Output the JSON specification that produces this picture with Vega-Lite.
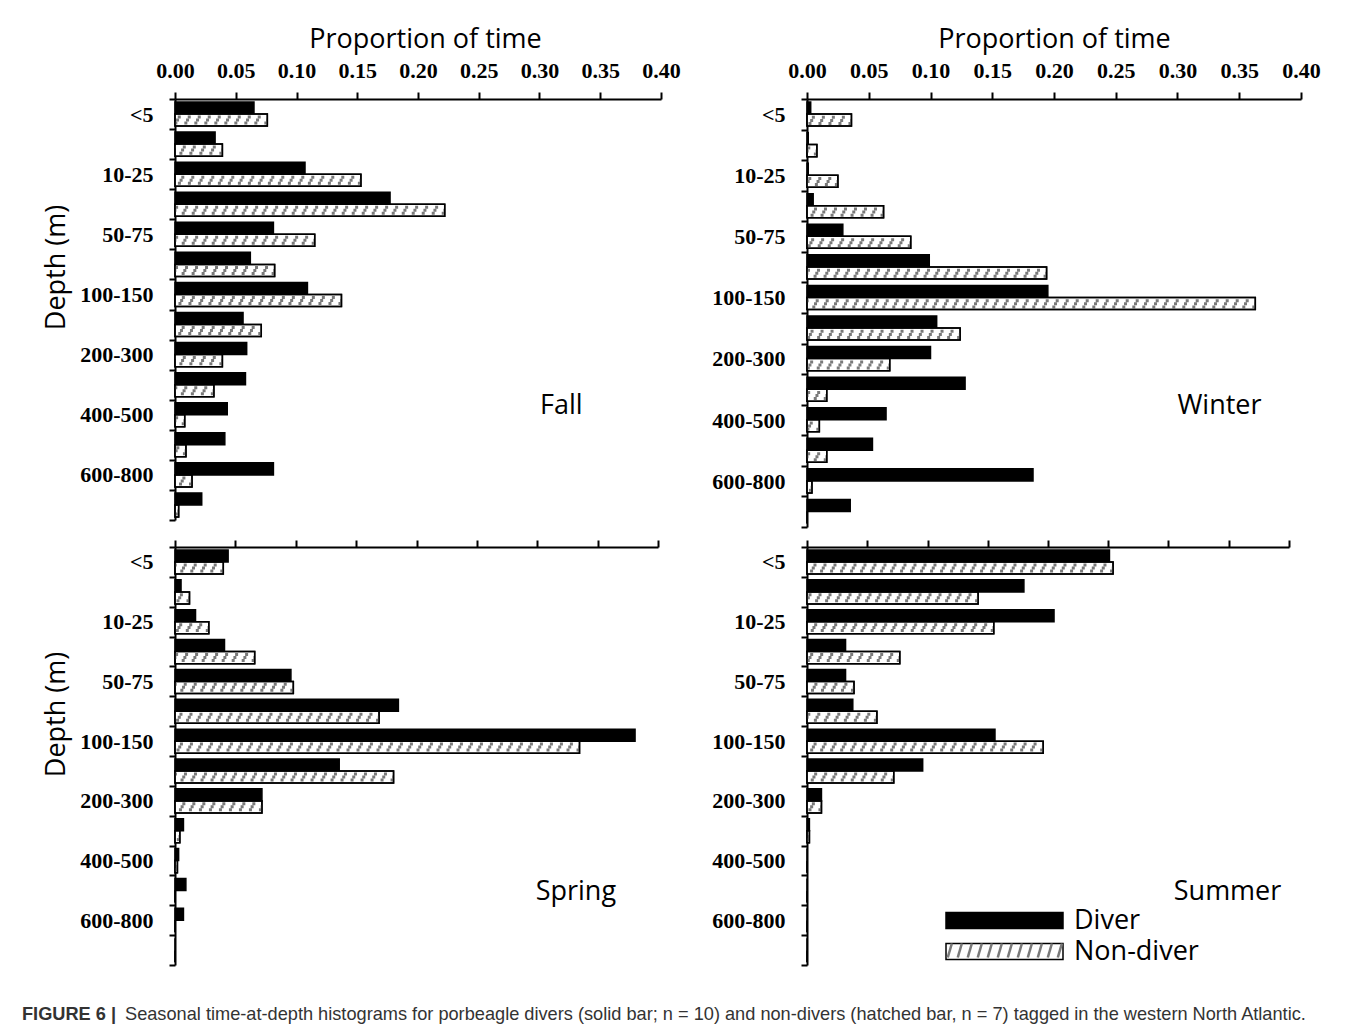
{
  "$schema": "https://vega.github.io/schema/vega-lite/v6.json",
  "padding": {"left": 22, "top": 25, "right": 5, "bottom": 5},
  "background": "white",
  "datasets": {
    "tad": [
      {"season": "Fall", "depth": "<5", "type": "Diver", "p": 0.065},
      {"season": "Fall", "depth": "5-10", "type": "Diver", "p": 0.033},
      {"season": "Fall", "depth": "10-25", "type": "Diver", "p": 0.107},
      {"season": "Fall", "depth": "25-50", "type": "Diver", "p": 0.177},
      {"season": "Fall", "depth": "50-75", "type": "Diver", "p": 0.081},
      {"season": "Fall", "depth": "75-100", "type": "Diver", "p": 0.062},
      {"season": "Fall", "depth": "100-150", "type": "Diver", "p": 0.109},
      {"season": "Fall", "depth": "150-200", "type": "Diver", "p": 0.056},
      {"season": "Fall", "depth": "200-300", "type": "Diver", "p": 0.059},
      {"season": "Fall", "depth": "300-400", "type": "Diver", "p": 0.058},
      {"season": "Fall", "depth": "400-500", "type": "Diver", "p": 0.043},
      {"season": "Fall", "depth": "500-600", "type": "Diver", "p": 0.041},
      {"season": "Fall", "depth": "600-800", "type": "Diver", "p": 0.081},
      {"season": "Fall", "depth": ">800", "type": "Diver", "p": 0.022},
      {"season": "Fall", "depth": "<5", "type": "Non-diver", "p": 0.076},
      {"season": "Fall", "depth": "5-10", "type": "Non-diver", "p": 0.039},
      {"season": "Fall", "depth": "10-25", "type": "Non-diver", "p": 0.153},
      {"season": "Fall", "depth": "25-50", "type": "Non-diver", "p": 0.222},
      {"season": "Fall", "depth": "50-75", "type": "Non-diver", "p": 0.115},
      {"season": "Fall", "depth": "75-100", "type": "Non-diver", "p": 0.082},
      {"season": "Fall", "depth": "100-150", "type": "Non-diver", "p": 0.137},
      {"season": "Fall", "depth": "150-200", "type": "Non-diver", "p": 0.071},
      {"season": "Fall", "depth": "200-300", "type": "Non-diver", "p": 0.039},
      {"season": "Fall", "depth": "300-400", "type": "Non-diver", "p": 0.032},
      {"season": "Fall", "depth": "400-500", "type": "Non-diver", "p": 0.008},
      {"season": "Fall", "depth": "500-600", "type": "Non-diver", "p": 0.009},
      {"season": "Fall", "depth": "600-800", "type": "Non-diver", "p": 0.014},
      {"season": "Fall", "depth": ">800", "type": "Non-diver", "p": 0.003},
      {"season": "Winter", "depth": "<5", "type": "Diver", "p": 0.003},
      {"season": "Winter", "depth": "5-10", "type": "Diver", "p": 0.001},
      {"season": "Winter", "depth": "10-25", "type": "Diver", "p": 0.001},
      {"season": "Winter", "depth": "25-50", "type": "Diver", "p": 0.005},
      {"season": "Winter", "depth": "50-75", "type": "Diver", "p": 0.029},
      {"season": "Winter", "depth": "75-100", "type": "Diver", "p": 0.099},
      {"season": "Winter", "depth": "100-150", "type": "Diver", "p": 0.195},
      {"season": "Winter", "depth": "150-200", "type": "Diver", "p": 0.105},
      {"season": "Winter", "depth": "200-300", "type": "Diver", "p": 0.1},
      {"season": "Winter", "depth": "300-400", "type": "Diver", "p": 0.128},
      {"season": "Winter", "depth": "400-500", "type": "Diver", "p": 0.064},
      {"season": "Winter", "depth": "500-600", "type": "Diver", "p": 0.053},
      {"season": "Winter", "depth": "600-800", "type": "Diver", "p": 0.183},
      {"season": "Winter", "depth": ">800", "type": "Diver", "p": 0.035},
      {"season": "Winter", "depth": "<5", "type": "Non-diver", "p": 0.036},
      {"season": "Winter", "depth": "5-10", "type": "Non-diver", "p": 0.008},
      {"season": "Winter", "depth": "10-25", "type": "Non-diver", "p": 0.025},
      {"season": "Winter", "depth": "25-50", "type": "Non-diver", "p": 0.062},
      {"season": "Winter", "depth": "50-75", "type": "Non-diver", "p": 0.084},
      {"season": "Winter", "depth": "75-100", "type": "Non-diver", "p": 0.194},
      {"season": "Winter", "depth": "100-150", "type": "Non-diver", "p": 0.363},
      {"season": "Winter", "depth": "150-200", "type": "Non-diver", "p": 0.124},
      {"season": "Winter", "depth": "200-300", "type": "Non-diver", "p": 0.067},
      {"season": "Winter", "depth": "300-400", "type": "Non-diver", "p": 0.016},
      {"season": "Winter", "depth": "400-500", "type": "Non-diver", "p": 0.01},
      {"season": "Winter", "depth": "500-600", "type": "Non-diver", "p": 0.016},
      {"season": "Winter", "depth": "600-800", "type": "Non-diver", "p": 0.004},
      {"season": "Winter", "depth": ">800", "type": "Non-diver", "p": 0},
      {"season": "Spring", "depth": "<5", "type": "Diver", "p": 0.044},
      {"season": "Spring", "depth": "5-10", "type": "Diver", "p": 0.005},
      {"season": "Spring", "depth": "10-25", "type": "Diver", "p": 0.017},
      {"season": "Spring", "depth": "25-50", "type": "Diver", "p": 0.041},
      {"season": "Spring", "depth": "50-75", "type": "Diver", "p": 0.096},
      {"season": "Spring", "depth": "75-100", "type": "Diver", "p": 0.185},
      {"season": "Spring", "depth": "100-150", "type": "Diver", "p": 0.381},
      {"season": "Spring", "depth": "150-200", "type": "Diver", "p": 0.136},
      {"season": "Spring", "depth": "200-300", "type": "Diver", "p": 0.072},
      {"season": "Spring", "depth": "300-400", "type": "Diver", "p": 0.007},
      {"season": "Spring", "depth": "400-500", "type": "Diver", "p": 0.003},
      {"season": "Spring", "depth": "500-600", "type": "Diver", "p": 0.009},
      {"season": "Spring", "depth": "600-800", "type": "Diver", "p": 0.007},
      {"season": "Spring", "depth": ">800", "type": "Diver", "p": 0},
      {"season": "Spring", "depth": "<5", "type": "Non-diver", "p": 0.04},
      {"season": "Spring", "depth": "5-10", "type": "Non-diver", "p": 0.012},
      {"season": "Spring", "depth": "10-25", "type": "Non-diver", "p": 0.028},
      {"season": "Spring", "depth": "25-50", "type": "Non-diver", "p": 0.066},
      {"season": "Spring", "depth": "50-75", "type": "Non-diver", "p": 0.098},
      {"season": "Spring", "depth": "75-100", "type": "Non-diver", "p": 0.169},
      {"season": "Spring", "depth": "100-150", "type": "Non-diver", "p": 0.335},
      {"season": "Spring", "depth": "150-200", "type": "Non-diver", "p": 0.181},
      {"season": "Spring", "depth": "200-300", "type": "Non-diver", "p": 0.072},
      {"season": "Spring", "depth": "300-400", "type": "Non-diver", "p": 0.004},
      {"season": "Spring", "depth": "400-500", "type": "Non-diver", "p": 0.002},
      {"season": "Spring", "depth": "500-600", "type": "Non-diver", "p": 0},
      {"season": "Spring", "depth": "600-800", "type": "Non-diver", "p": 0},
      {"season": "Spring", "depth": ">800", "type": "Non-diver", "p": 0},
      {"season": "Summer", "depth": "<5", "type": "Diver", "p": 0.251},
      {"season": "Summer", "depth": "5-10", "type": "Diver", "p": 0.18},
      {"season": "Summer", "depth": "10-25", "type": "Diver", "p": 0.205},
      {"season": "Summer", "depth": "25-50", "type": "Diver", "p": 0.032},
      {"season": "Summer", "depth": "50-75", "type": "Diver", "p": 0.032},
      {"season": "Summer", "depth": "75-100", "type": "Diver", "p": 0.038},
      {"season": "Summer", "depth": "100-150", "type": "Diver", "p": 0.156},
      {"season": "Summer", "depth": "150-200", "type": "Diver", "p": 0.096},
      {"season": "Summer", "depth": "200-300", "type": "Diver", "p": 0.012},
      {"season": "Summer", "depth": "300-400", "type": "Diver", "p": 0.002},
      {"season": "Summer", "depth": "400-500", "type": "Diver", "p": 0},
      {"season": "Summer", "depth": "500-600", "type": "Diver", "p": 0},
      {"season": "Summer", "depth": "600-800", "type": "Diver", "p": 0},
      {"season": "Summer", "depth": ">800", "type": "Diver", "p": 0},
      {"season": "Summer", "depth": "<5", "type": "Non-diver", "p": 0.254},
      {"season": "Summer", "depth": "5-10", "type": "Non-diver", "p": 0.142},
      {"season": "Summer", "depth": "10-25", "type": "Non-diver", "p": 0.155},
      {"season": "Summer", "depth": "25-50", "type": "Non-diver", "p": 0.077},
      {"season": "Summer", "depth": "50-75", "type": "Non-diver", "p": 0.039},
      {"season": "Summer", "depth": "75-100", "type": "Non-diver", "p": 0.058},
      {"season": "Summer", "depth": "100-150", "type": "Non-diver", "p": 0.196},
      {"season": "Summer", "depth": "150-200", "type": "Non-diver", "p": 0.072},
      {"season": "Summer", "depth": "200-300", "type": "Non-diver", "p": 0.012},
      {"season": "Summer", "depth": "300-400", "type": "Non-diver", "p": 0.002},
      {"season": "Summer", "depth": "400-500", "type": "Non-diver", "p": 0},
      {"season": "Summer", "depth": "500-600", "type": "Non-diver", "p": 0},
      {"season": "Summer", "depth": "600-800", "type": "Non-diver", "p": 0},
      {"season": "Summer", "depth": ">800", "type": "Non-diver", "p": 0}
    ]
  },
  "data": {"name": "tad"},
  "columns": 2,
  "spacing": {"row": 20, "column": 146},
  "bounds": "flush",
  "resolve": {
    "scale": {"fill": "independent", "strokeDash": "independent"},
    "legend": {"fill": "independent", "strokeDash": "independent"}
  },
  "concat": [
    {
      "width": 486,
      "height": 421,
      "transform": [{"filter": "datum.season === 'Fall'"}],
      "layer": [
        {
          "mark": {"type": "bar", "stroke": "black", "strokeWidth": 1.5},
          "encoding": {
            "y": {"field": "depth", "type": "nominal", "scale": {"domain": ["<5", "5-10", "10-25", "25-50", "50-75", "75-100", "100-150", "150-200", "200-300", "300-400", "400-500", "500-600", "600-800", ">800"], "paddingInner": 0, "paddingOuter": 0},
              "axis": {"orient": "left", "tickBand": "extent", "tickSize": 6, "labelPadding": 16, "labelExpr": "indexof(['<5','10-25','50-75','100-150','200-300','400-500','600-800'], datum.value) >= 0 ? datum.value : ''", "title": "Depth (m)", "titlePadding": 9, "titleY": 168}},
            "yOffset": {"field": "type", "type": "nominal", "scale": {"domain": ["Diver", "Non-diver"], "paddingInner": 0, "paddingOuter": 0.25}},
            "x": {"field": "p", "type": "quantitative", "scale": {"domain": [0, 0.4], "nice": false},
              "axis": {"orient": "top", "values": [0, 0.05, 0.1, 0.15, 0.2, 0.25, 0.3, 0.35, 0.4], "format": ".2f", "tickSize": 7, "labelPadding": 10, "labelFlush": false, "title": "Proportion of time", "titlePadding": 6, "titleX": 250}},
            "fill": {"field": "type", "type": "nominal", "scale": {"domain": ["Diver", "Non-diver"], "range": ["black", "white"]}, "legend": null}
          }
        },
        {
          "transform": [{"filter": "datum.type === 'Non-diver'"}],
          "mark": {"type": "rule", "color": "#7a7a7a", "strokeWidth": 3, "strokeCap": "butt", "strokeDash": [3, 7], "strokeDashOffset": 3.4},
          "encoding": {"y": {"field": "depth", "type": "nominal", "bandPosition": 0.6}, "x": {"field": "p", "type": "quantitative"}, "x2": {"datum": 0}}
        },
        {
          "transform": [{"filter": "datum.type === 'Non-diver'"}],
          "mark": {"type": "rule", "color": "#7a7a7a", "strokeWidth": 3, "strokeCap": "butt", "strokeDash": [3, 7], "strokeDashOffset": 1.7},
          "encoding": {"y": {"field": "depth", "type": "nominal", "bandPosition": 0.7}, "x": {"field": "p", "type": "quantitative"}, "x2": {"datum": 0}}
        },
        {
          "transform": [{"filter": "datum.type === 'Non-diver'"}],
          "mark": {"type": "rule", "color": "#7a7a7a", "strokeWidth": 3, "strokeCap": "butt", "strokeDash": [3, 7], "strokeDashOffset": 0},
          "encoding": {"y": {"field": "depth", "type": "nominal", "bandPosition": 0.8}, "x": {"field": "p", "type": "quantitative"}, "x2": {"datum": 0}}
        },
        {
          "transform": [{"filter": "datum.type === 'Non-diver'"}],
          "mark": {"type": "bar", "fill": "transparent", "stroke": "black", "strokeWidth": 1.5},
          "encoding": {"y": {"field": "depth", "type": "nominal"}, "yOffset": {"field": "type", "type": "nominal"}, "x": {"field": "p", "type": "quantitative"}}
        },
        {
          "transform": [{"filter": "datum.depth === '<5' && datum.type === 'Diver'"}],
          "mark": {"type": "text", "font": "Open Sans", "fontSize": 27, "align": "center", "baseline": "alphabetic", "dy": -1, "color": "black"},
          "encoding": {"text": {"field": "season"}, "x": {"datum": 0.318}, "y": {"datum": "400-500"}}
        }
      ]
    },
    {
      "width": 494,
      "height": 428,
      "transform": [{"filter": "datum.season === 'Winter'"}],
      "layer": [
        {
          "mark": {"type": "bar", "stroke": "black", "strokeWidth": 1.5},
          "encoding": {
            "y": {"field": "depth", "type": "nominal", "scale": {"domain": ["<5", "5-10", "10-25", "25-50", "50-75", "75-100", "100-150", "150-200", "200-300", "300-400", "400-500", "500-600", "600-800", ">800"], "paddingInner": 0, "paddingOuter": 0},
              "axis": {"orient": "left", "tickBand": "extent", "tickSize": 6, "labelPadding": 16, "labelExpr": "indexof(['<5','10-25','50-75','100-150','200-300','400-500','600-800'], datum.value) >= 0 ? datum.value : ''", "title": null}},
            "yOffset": {"field": "type", "type": "nominal", "scale": {"domain": ["Diver", "Non-diver"], "paddingInner": 0, "paddingOuter": 0.25}},
            "x": {"field": "p", "type": "quantitative", "scale": {"domain": [0, 0.4], "nice": false},
              "axis": {"orient": "top", "values": [0, 0.05, 0.1, 0.15, 0.2, 0.25, 0.3, 0.35, 0.4], "format": ".2f", "tickSize": 7, "labelPadding": 10, "labelFlush": false, "title": "Proportion of time", "titlePadding": 6, "titleX": 247}},
            "fill": {"field": "type", "type": "nominal", "scale": {"domain": ["Diver", "Non-diver"], "range": ["black", "white"]}, "legend": null}
          }
        },
        {
          "transform": [{"filter": "datum.type === 'Non-diver'"}],
          "mark": {"type": "rule", "color": "#7a7a7a", "strokeWidth": 3, "strokeCap": "butt", "strokeDash": [3, 7], "strokeDashOffset": 3.4},
          "encoding": {"y": {"field": "depth", "type": "nominal", "bandPosition": 0.6}, "x": {"field": "p", "type": "quantitative"}, "x2": {"datum": 0}}
        },
        {
          "transform": [{"filter": "datum.type === 'Non-diver'"}],
          "mark": {"type": "rule", "color": "#7a7a7a", "strokeWidth": 3, "strokeCap": "butt", "strokeDash": [3, 7], "strokeDashOffset": 1.7},
          "encoding": {"y": {"field": "depth", "type": "nominal", "bandPosition": 0.7}, "x": {"field": "p", "type": "quantitative"}, "x2": {"datum": 0}}
        },
        {
          "transform": [{"filter": "datum.type === 'Non-diver'"}],
          "mark": {"type": "rule", "color": "#7a7a7a", "strokeWidth": 3, "strokeCap": "butt", "strokeDash": [3, 7], "strokeDashOffset": 0},
          "encoding": {"y": {"field": "depth", "type": "nominal", "bandPosition": 0.8}, "x": {"field": "p", "type": "quantitative"}, "x2": {"datum": 0}}
        },
        {
          "transform": [{"filter": "datum.type === 'Non-diver'"}],
          "mark": {"type": "bar", "fill": "transparent", "stroke": "black", "strokeWidth": 1.5},
          "encoding": {"y": {"field": "depth", "type": "nominal"}, "yOffset": {"field": "type", "type": "nominal"}, "x": {"field": "p", "type": "quantitative"}}
        },
        {
          "transform": [{"filter": "datum.depth === '<5' && datum.type === 'Diver'"}],
          "mark": {"type": "text", "font": "Open Sans", "fontSize": 27, "align": "center", "baseline": "alphabetic", "dy": -6, "color": "black"},
          "encoding": {"text": {"field": "season"}, "x": {"datum": 0.334}, "y": {"datum": "400-500"}}
        }
      ]
    },
    {
      "width": 483,
      "height": 418,
      "title": {"text": "FIGURE 6 |", "orient": "bottom", "anchor": "start", "frame": "group", "dx": -153, "offset": 40, "font": "Liberation Sans", "fontSize": 18.2, "fontWeight": "bold", "color": "#333333"},
      "transform": [{"filter": "datum.season === 'Spring'"}],
      "layer": [
        {
          "mark": {"type": "bar", "stroke": "black", "strokeWidth": 1.5},
          "encoding": {
            "y": {"field": "depth", "type": "nominal", "scale": {"domain": ["<5", "5-10", "10-25", "25-50", "50-75", "75-100", "100-150", "150-200", "200-300", "300-400", "400-500", "500-600", "600-800", ">800"], "paddingInner": 0, "paddingOuter": 0},
              "axis": {"orient": "left", "tickBand": "extent", "tickSize": 6, "labelPadding": 16, "labelExpr": "indexof(['<5','10-25','50-75','100-150','200-300','400-500','600-800'], datum.value) >= 0 ? datum.value : ''", "title": "Depth (m)", "titlePadding": 9, "titleY": 167}},
            "yOffset": {"field": "type", "type": "nominal", "scale": {"domain": ["Diver", "Non-diver"], "paddingInner": 0, "paddingOuter": 0.25}},
            "x": {"field": "p", "type": "quantitative", "scale": {"domain": [0, 0.4], "nice": false},
              "axis": {"orient": "top", "values": [0, 0.05, 0.1, 0.15, 0.2, 0.25, 0.3, 0.35, 0.4], "tickSize": 7, "labels": false, "title": null}},
            "fill": {"field": "type", "type": "nominal", "scale": {"domain": ["Diver", "Non-diver"], "range": ["black", "white"]}, "legend": null}
          }
        },
        {
          "transform": [{"filter": "datum.type === 'Non-diver'"}],
          "mark": {"type": "rule", "color": "#7a7a7a", "strokeWidth": 3, "strokeCap": "butt", "strokeDash": [3, 7], "strokeDashOffset": 3.4},
          "encoding": {"y": {"field": "depth", "type": "nominal", "bandPosition": 0.6}, "x": {"field": "p", "type": "quantitative"}, "x2": {"datum": 0}}
        },
        {
          "transform": [{"filter": "datum.type === 'Non-diver'"}],
          "mark": {"type": "rule", "color": "#7a7a7a", "strokeWidth": 3, "strokeCap": "butt", "strokeDash": [3, 7], "strokeDashOffset": 1.7},
          "encoding": {"y": {"field": "depth", "type": "nominal", "bandPosition": 0.7}, "x": {"field": "p", "type": "quantitative"}, "x2": {"datum": 0}}
        },
        {
          "transform": [{"filter": "datum.type === 'Non-diver'"}],
          "mark": {"type": "rule", "color": "#7a7a7a", "strokeWidth": 3, "strokeCap": "butt", "strokeDash": [3, 7], "strokeDashOffset": 0},
          "encoding": {"y": {"field": "depth", "type": "nominal", "bandPosition": 0.8}, "x": {"field": "p", "type": "quantitative"}, "x2": {"datum": 0}}
        },
        {
          "transform": [{"filter": "datum.type === 'Non-diver'"}],
          "mark": {"type": "bar", "fill": "transparent", "stroke": "black", "strokeWidth": 1.5},
          "encoding": {"y": {"field": "depth", "type": "nominal"}, "yOffset": {"field": "type", "type": "nominal"}, "x": {"field": "p", "type": "quantitative"}}
        },
        {
          "transform": [{"filter": "datum.depth === '<5' && datum.type === 'Diver'"}],
          "mark": {"type": "text", "font": "Open Sans", "fontSize": 27, "align": "center", "baseline": "alphabetic", "dy": 10, "color": "black"},
          "encoding": {"text": {"field": "season"}, "x": {"datum": 0.332}, "y": {"datum": "500-600"}}
        }
      ]
    },
    {
      "width": 482,
      "height": 418,
      "title": {"text": "Seasonal time-at-depth histograms for porbeagle divers (solid bar; n = 10) and non-divers (hatched bar, n = 7) tagged in the western North Atlantic.", "orient": "bottom", "anchor": "start", "frame": "group", "dx": -682, "offset": 40, "font": "Liberation Sans", "fontSize": 18.2, "fontWeight": "normal", "color": "#333333"},
      "transform": [{"filter": "datum.season === 'Summer'"}],
      "layer": [
        {
          "mark": {"type": "bar", "stroke": "black", "strokeWidth": 1.5},
          "encoding": {
            "y": {"field": "depth", "type": "nominal", "scale": {"domain": ["<5", "5-10", "10-25", "25-50", "50-75", "75-100", "100-150", "150-200", "200-300", "300-400", "400-500", "500-600", "600-800", ">800"], "paddingInner": 0, "paddingOuter": 0},
              "axis": {"orient": "left", "tickBand": "extent", "tickSize": 6, "labelPadding": 16, "labelExpr": "indexof(['<5','10-25','50-75','100-150','200-300','400-500','600-800'], datum.value) >= 0 ? datum.value : ''", "title": null}},
            "yOffset": {"field": "type", "type": "nominal", "scale": {"domain": ["Diver", "Non-diver"], "paddingInner": 0, "paddingOuter": 0.25}},
            "x": {"field": "p", "type": "quantitative", "scale": {"domain": [0, 0.4], "nice": false},
              "axis": {"orient": "top", "values": [0, 0.05, 0.1, 0.15, 0.2, 0.25, 0.3, 0.35, 0.4], "tickSize": 7, "labels": false, "title": null}},
            "fill": {"field": "type", "type": "nominal", "scale": {"domain": ["Diver", "Non-diver"], "range": ["black", "white"]},
              "legend": {"orient": "none", "legendX": 184, "legendY": 360, "title": null, "padding": 0, "symbolType": "M-11.7,-1.58H11.7V1.58H-11.7Z", "symbolSize": 100, "symbolStrokeColor": "black", "symbolStrokeWidth": 1.5, "labelFont": "Open Sans", "labelFontSize": 27, "labelColor": "black", "labelOffset": 56, "rowPadding": 3}}
          }
        },
        {
          "transform": [{"filter": "datum.type === 'Non-diver'"}],
          "mark": {"type": "rule", "color": "#7a7a7a", "strokeWidth": 3, "strokeCap": "butt", "strokeDash": [3, 7], "strokeDashOffset": 3.4},
          "encoding": {"y": {"field": "depth", "type": "nominal", "bandPosition": 0.6}, "x": {"field": "p", "type": "quantitative"}, "x2": {"datum": 0}}
        },
        {
          "transform": [{"filter": "datum.type === 'Non-diver'"}],
          "mark": {"type": "rule", "color": "#7a7a7a", "strokeWidth": 3, "strokeCap": "butt", "strokeDash": [3, 7], "strokeDashOffset": 1.7},
          "encoding": {"y": {"field": "depth", "type": "nominal", "bandPosition": 0.7}, "x": {"field": "p", "type": "quantitative"}, "x2": {"datum": 0}}
        },
        {
          "transform": [{"filter": "datum.type === 'Non-diver'"}],
          "mark": {"type": "rule", "color": "#7a7a7a", "strokeWidth": 3, "strokeCap": "butt", "strokeDash": [3, 7], "strokeDashOffset": 0},
          "encoding": {"y": {"field": "depth", "type": "nominal", "bandPosition": 0.8}, "x": {"field": "p", "type": "quantitative"}, "x2": {"datum": 0}}
        },
        {
          "transform": [{"filter": "datum.type === 'Non-diver'"}],
          "mark": {"type": "bar", "fill": "transparent", "stroke": "black", "strokeWidth": 1.5},
          "encoding": {
            "y": {"field": "depth", "type": "nominal"},
            "yOffset": {"field": "type", "type": "nominal"},
            "x": {"field": "p", "type": "quantitative"},
            "strokeDash": {"field": "type", "type": "nominal", "scale": {"domain": ["Non-diver"], "range": [[1, 0]]},
              "legend": {"orient": "none", "legendX": 184, "legendY": 390, "title": null, "padding": 0, "symbolType": "M-11.35,1.4L-10.53,-1.4M-9.35,1.4L-8.53,-1.4M-7.35,1.4L-6.53,-1.4M-5.35,1.4L-4.53,-1.4M-3.35,1.4L-2.53,-1.4M-1.35,1.4L-0.53,-1.4M0.66,1.4L1.48,-1.4M2.66,1.4L3.48,-1.4M4.66,1.4L5.48,-1.4M6.66,1.4L7.48,-1.4M8.66,1.4L9.48,-1.4M10.66,1.4L11.48,-1.4", "symbolSize": 100, "symbolFillColor": "transparent", "symbolStrokeColor": "#7a7a7a", "symbolStrokeWidth": 2.5, "labelExpr": "''", "labelOpacity": 0, "labelFontSize": 27, "labelOffset": 56}}
          }
        },
        {
          "transform": [{"filter": "datum.depth === '<5' && datum.type === 'Diver'"}],
          "mark": {"type": "text", "font": "Open Sans", "fontSize": 27, "align": "center", "baseline": "alphabetic", "dy": 10, "color": "black"},
          "encoding": {"text": {"field": "season"}, "x": {"datum": 0.349}, "y": {"datum": "500-600"}}
        }
      ]
    }
  ],
  "config": {
    "view": {"stroke": null},
    "axis": {
      "domainColor": "black",
      "domainWidth": 2,
      "tickColor": "black",
      "tickWidth": 2,
      "grid": false,
      "labelColor": "black",
      "labelFont": "Liberation Serif",
      "labelFontWeight": "bold",
      "labelFontSize": 22,
      "labelOverlap": false,
      "titleColor": "black",
      "titleFont": "Open Sans",
      "titleFontSize": 27,
      "titleFontWeight": "normal"
    }
  }
}
